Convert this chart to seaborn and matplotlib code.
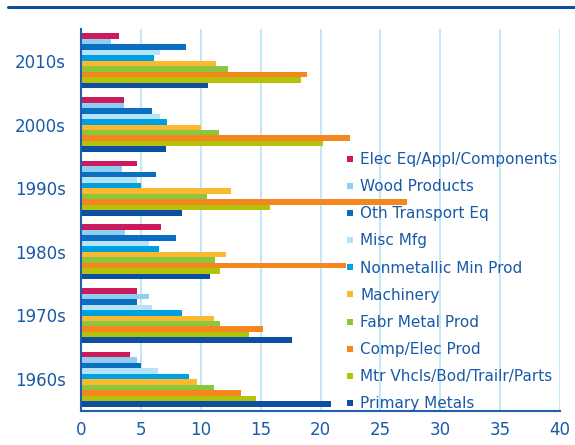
import matplotlib
matplotlib.use("Agg")
import matplotlib.pyplot as plt
from matplotlib.lines import Line2D
import seaborn as sns
import pandas as pd

decades = ["2010s", "2000s", "1990s", "1980s", "1970s", "1960s"]
industries = ["Elec Eq/Appl/Components", "Wood Products", "Oth Transport Eq",
              "Misc Mfg", "Nonmetallic Min Prod", "Machinery", "Fabr Metal Prod",
              "Comp/Elec Prod", "Mtr Vhcls/Bod/Trailr/Parts", "Primary Metals"]
colors = ["#cc1a5c", "#8dcff0", "#0a6fc0", "#b5e4f8", "#00a1e0",
          "#fdb92e", "#8cc63f", "#f5871f", "#b5c20a", "#0b4ea2"]

elec    = [3.2, 3.6, 4.7, 6.7, 4.7, 4.1]
wood    = [2.5, 3.6, 3.4, 3.7, 5.7, 4.7]
oth     = [8.8, 5.9, 6.3, 7.9, 4.7, 5.0]
misc    = [6.6, 6.6, 4.7, 5.7, 5.9, 6.4]
nonmet  = [6.1, 7.2, 5.0, 6.5, 8.4, 9.0]
mach    = [11.3, 10.0, 12.5, 12.1, 11.1, 9.7]
fabr    = [12.3, 11.5, 10.5, 11.2, 11.6, 11.1]
comp    = [18.9, 22.5, 27.2, 22.1, 15.2, 13.4]
mtr     = [18.4, 20.2, 15.8, 11.6, 14.0, 14.6]
primary = [10.6, 7.1, 8.4, 10.8, 17.6, 20.9]

series = [elec, wood, oth, misc, nonmet, mach, fabr, comp, mtr, primary]
rows = []
for ind, vals in zip(industries, series):
    for d, v in zip(decades, vals):
        rows.append({"decade": d, "industry": ind, "value": v})
df = pd.DataFrame(rows)

sns.set_style("white")
plt.rcParams["font.family"] = ["DejaVu Sans"]
txt = "#1a5aa8"
spine = "#1f5fae"

fig = plt.figure(figsize=(5.75, 4.45), dpi=100)
ax = fig.add_axes([81/575, 1-411/445, (560-81)/575, (411-29)/445])

sns.barplot(data=df, y="decade", x="value", hue="industry", order=decades,
            hue_order=industries, palette=colors, orient="h", width=0.86,
            errorbar=None, ax=ax, legend=False, linewidth=0, saturation=1)

ax.set_xlim(0, 40)
ax.set_ylim(5.5, -0.5)
ax.set_xticks(range(0, 41, 5))
ax.xaxis.grid(True, color="#c5e8f7", linewidth=1.5)
ax.yaxis.grid(False)
ax.set_axisbelow(True)
ax.set_xlabel("")
ax.set_ylabel("")

for s in ["top", "right"]:
    ax.spines[s].set_visible(False)
for s in ["left", "bottom"]:
    ax.spines[s].set_color(spine)
    ax.spines[s].set_linewidth(1.5)

ax.tick_params(axis="x", direction="inout", length=6, width=1.2, color=spine,
               labelsize=12, labelcolor=txt, pad=4)
ax.tick_params(axis="y", which="major", length=0, labelsize=12, labelcolor=txt, pad=11)
ax.set_yticks([i - 0.5 for i in range(7)], minor=True)
ax.tick_params(axis="y", which="minor", direction="out", length=5, width=1.5, color=spine)

handles = [Line2D([0], [0], marker="s", linestyle="none", markersize=4.5,
                  markerfacecolor=c, markeredgewidth=0) for c in colors]
fig.legend(handles, industries, loc="upper left",
           bbox_to_anchor=(344/575, 1-152/445), frameon=False,
           fontsize=11, labelcolor=txt, handlelength=0.75, handletextpad=0.3,
           labelspacing=0.795, borderpad=0, borderaxespad=0)

fig.add_artist(Line2D([8/575, 1], [1-6.5/445, 1-6.5/445], color="#0b4ea2",
                      linewidth=2.2, transform=fig.transFigure))

fig.savefig("out.png", dpi=100)
